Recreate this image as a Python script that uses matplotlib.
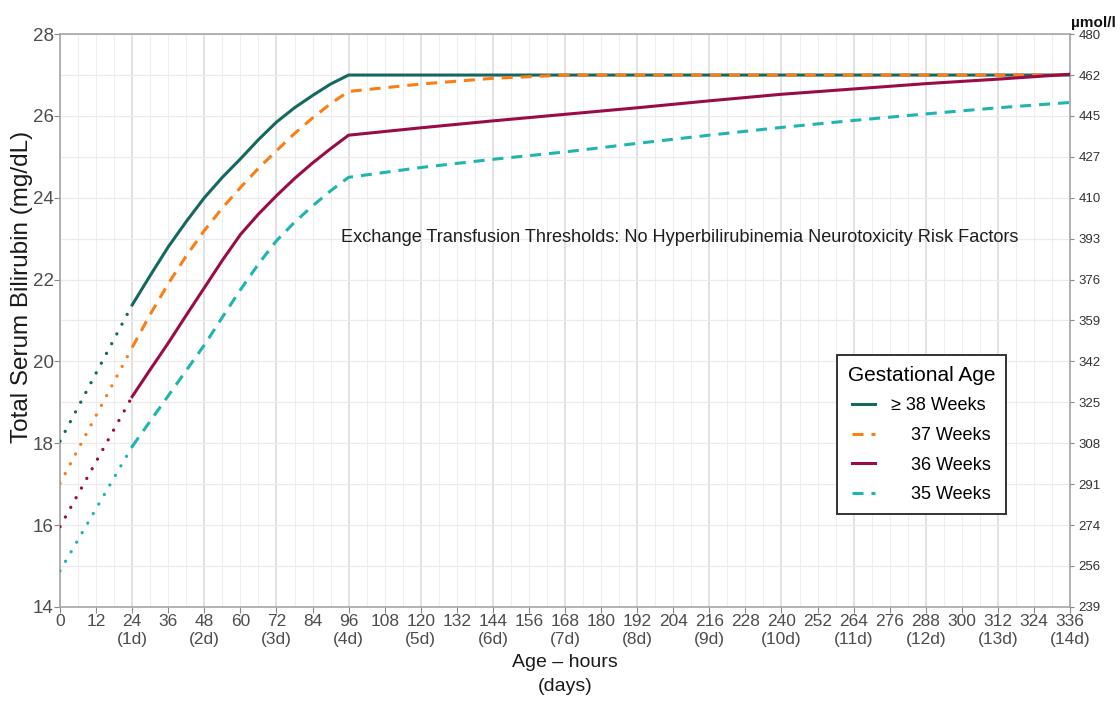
import matplotlib
matplotlib.use("Agg")
import matplotlib.pyplot as plt
from matplotlib import font_manager
from matplotlib.lines import Line2D

plt.rcParams['font.family'] = ['Liberation Sans', 'DejaVu Sans']

# hours of age
hours_early = [0, 24]
hours_main = [24, 30, 36, 42, 48, 54, 60, 66, 72, 78, 84, 90, 96,
              120, 144, 168, 192, 216, 240, 264, 288, 312, 336]

# exchange transfusion thresholds (mg/dL) by gestational age
ga_labels = ["\u2265 38 Weeks", "    37 Weeks", "    36 Weeks", "    35 Weeks"]
early_38 = [18.05, 21.38]
main_38 = [21.38, 22.1, 22.8, 23.42, 24.0, 24.5, 24.95, 25.42, 25.85, 26.2, 26.5, 26.78, 27.0,
           27.0, 27.0, 27.0, 27.0, 27.0, 27.0, 27.0, 27.0, 27.0, 27.0]
early_37 = [17.02, 20.34]
main_37 = [20.34, 21.15, 21.9, 22.58, 23.2, 23.75, 24.25, 24.72, 25.15, 25.57, 25.95, 26.3, 26.6,
           26.78, 26.92, 27.0, 27.0, 27.0, 27.0, 27.0, 27.0, 27.0, 27.0]
early_36 = [15.96, 19.14]
main_36 = [19.14, 19.8, 20.45, 21.13, 21.8, 22.47, 23.1, 23.6, 24.05, 24.47, 24.85, 25.2, 25.53,
           25.71, 25.88, 26.04, 26.2, 26.37, 26.53, 26.66, 26.79, 26.9, 27.02]
early_35 = [14.88, 17.92]
main_35 = [17.92, 18.54, 19.16, 19.78, 20.4, 21.08, 21.75, 22.38, 22.95, 23.4, 23.8, 24.17, 24.5,
           24.74, 24.94, 25.12, 25.33, 25.53, 25.72, 25.89, 26.05, 26.2, 26.33]

# right axis: same levels in umol/L
umol_ticks = [239, 256, 274, 291, 308, 325, 342, 359, 376, 393, 410, 427, 445, 462, 480]

colors = ['#15685f', '#fb7d16', '#9a0c47', '#1fb5ae']
dashed = (0, (3.6, 2.6))
dotted = (0, (0.01, 3.3))
styles = ['-', dashed, '-', dashed]
series = [(early_38, main_38), (early_37, main_37), (early_36, main_36), (early_35, main_35)]

fig = plt.figure(figsize=(11.2, 7.04), dpi=100)
ax = fig.add_axes([0.0536, 0.138, 0.9018, 0.8135])

tick_col = '#4d4d4d'
ax.set_xlim(0, 336)
ax.set_ylim(14, 28)

# grid: light every 6 h and 1 mg/dL, darker every 24 h
for h in range(0, 337, 6):
    ax.axvline(h, color='#d9d9d9' if h % 24 == 0 else '#eeeeee', lw=1.1 if h % 24 == 0 else 0.8, zorder=0)
for v in range(14, 29):
    ax.axhline(v, color='#ebebeb', lw=0.9, zorder=0)

for (early, main), col, ls in zip(series, colors, styles):
    ax.plot(hours_early, early, color=col, lw=2.4, linestyle=dotted,
            dash_capstyle='round', zorder=3)
    ax.plot(hours_main, main, color=col, lw=2.2, linestyle=ls,
            dash_capstyle='butt', solid_joinstyle='round', zorder=3)

# x ticks: hours with day in parentheses
xt = list(range(0, 337, 12))
xl = [f"{h}\n({h // 24}d)" if h % 24 == 0 and h > 0 else str(h) for h in xt]
ax.set_xticks(xt)
ax.set_xticklabels(xl, fontsize=12.5, color=tick_col, linespacing=1.3)
ax.set_yticks(range(14, 29, 2))
ax.set_yticklabels([str(v) for v in range(14, 29, 2)], fontsize=13.5, color=tick_col)
ax.tick_params(axis='x', length=4, width=0.8, color='#888888', pad=1)
ax.tick_params(axis='y', length=4, width=0.8, color='#888888', pad=0.5)

for s in ax.spines.values():
    s.set_color('#a6a6a6')
    s.set_linewidth(1.2)

ax.set_ylabel("Total Serum Bilirubin (mg/dL)", fontsize=17.5, color='#1a1a1a')
ax.yaxis.set_label_coords(-0.027, 0.558)
ax.set_xlabel("Age \u2013 hours\n(days)", fontsize=14, color='#1a1a1a', labelpad=5, linespacing=1.5)

# secondary scale
ax2 = ax.twinx()
ax2.set_ylim(14, 28)
ax2.set_yticks(range(14, 29))
ax2.set_yticklabels([str(u) for u in umol_ticks], fontsize=9.5, color='#333333')
ax2.tick_params(axis='y', length=3, width=0.8, color='#888888', pad=3)
for s in ax2.spines.values():
    s.set_visible(False)
fig.text(0.976, 0.968, "\u00b5mol/l", fontsize=11, fontweight='bold', ha='center', va='center', color='#111111')

# chart heading inside the panel
narrow = [f.name for f in font_manager.fontManager.ttflist if f.name == 'Liberation Sans Narrow']
ax.text(206, 23.02, "Exchange Transfusion Thresholds: No Hyperbilirubinemia Neurotoxicity Risk Factors",
        fontsize=13.1, color='#1e1e1e', ha='center', va='center',
        family=narrow[0] if narrow else 'Liberation Sans', zorder=4)

handles = [Line2D([0], [0], color=c, lw=2.2, linestyle=ls) for c, ls in zip(colors, styles)]
leg = ax.legend(handles, ga_labels, title="Gestational Age", loc='upper left',
                bbox_to_anchor=(0.769, 0.44), fontsize=13, title_fontsize=15,
                frameon=True, fancybox=False, edgecolor='#333333', framealpha=1,
                handlelength=1.3, handletextpad=0.9, labelspacing=0.7, borderpad=0.6,
                borderaxespad=0)
leg.get_frame().set_linewidth(1.4)
leg.set_zorder(5)

fig.savefig("out.png", dpi=100)
